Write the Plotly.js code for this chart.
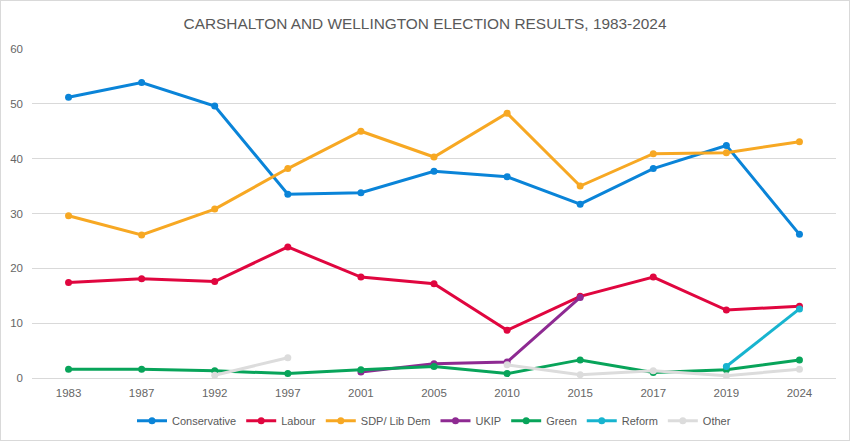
<!DOCTYPE html>
<html>
<head>
<meta charset="utf-8">
<script src="https://cdn.plot.ly/plotly-3.0.1.min.js"></script>
<style>
  html, body { margin:0; padding:0; background:#fff; }
  #chart { width:848px; height:439px; border:1px solid #d9d9d9; }
</style>
</head>
<body>
<div id="chart"></div>
<script>
// election years (category axis)
const years = ['1983','1987','1992','1997','2001','2005','2010','2015','2017','2019','2024'];

// vote share, %
const conservative = [51.2, 53.9, 49.6, 33.5, 33.8, 37.7, 36.7, 31.7, 38.2, 42.4, 26.2];
const labour       = [17.4, 18.1, 17.6, 23.9, 18.4, 17.2, 8.7, 14.9, 18.4, 12.4, 13.1];
const libDem       = [29.6, 26.1, 30.8, 38.2, 45.0, 40.3, 48.3, 35.0, 40.9, 41.1, 43.1];
const ukip         = [null, null, null, null, 1.1, 2.6, 2.9, 14.7, null, null, null];
const green        = [1.6, 1.6, 1.3, 0.8, 1.5, 2.1, 0.8, 3.3, 1.0, 1.5, 3.3];
const reform       = [null, null, null, null, null, null, null, null, null, 2.1, 12.6];
const other        = [null, null, 0.5, 3.7, null, null, 2.4, 0.6, 1.3, 0.4, 1.6];

const series = [
  {name:'Conservative', y:conservative, color:'#0a84d8'},
  {name:'Labour',       y:labour,       color:'#e0063f'},
  {name:'SDP/ Lib Dem', y:libDem,       color:'#f7a823'},
  {name:'UKIP',         y:ukip,         color:'#8e2a92'},
  {name:'Green',        y:green,        color:'#08a45a'},
  {name:'Reform',       y:reform,       color:'#17b4cf'},
  {name:'Other',        y:other,        color:'#dcdcdc'}
];

const traces = series.map(s=>({
  x: years, y: s.y, name: s.name, type:'scatter', mode:'lines+markers',
  connectgaps:false,
  line:{color:s.color, width:3},
  marker:{color:s.color, size:7}
}));

const layout = {
  width:848, height:439,
  margin:{l:31, r:13, t:48, b:62, autoexpand:false},
  paper_bgcolor:'#fff', plot_bgcolor:'#fff',
  font:{family:'"Liberation Sans", Arial, sans-serif', color:'#595959', size:11},
  title:{text:'CARSHALTON AND WELLINGTON ELECTION RESULTS, 1983-2024',
         x:0.5, xanchor:'center', y:0.948, yanchor:'middle',
         font:{size:15.4, color:'#595959'}},
  xaxis:{type:'category', range:[-0.5, 10.5], showgrid:false, zeroline:false, showline:false,
         ticks:'', ticklabelstandoff:6, tickfont:{size:11.5, color:'#666'}},
  yaxis:{range:[0,60], dtick:10, showgrid:true, gridcolor:'#d9d9d9', gridwidth:1,
         zeroline:true, zerolinecolor:'#d9d9d9', zerolinewidth:1,
         ticks:'', ticklabelstandoff:8, tickfont:{size:11.5, color:'#666'}},
  legend:{orientation:'h', x:0.5, xanchor:'center', y:-0.13, yanchor:'middle',
          font:{size:11, color:'#595959'}, itemwidth:30, tracegroupgap:0},
  showlegend:true
};

Plotly.newPlot('chart', traces, layout, {displayModeBar:false, staticPlot:true});
</script>
</body>
</html>
